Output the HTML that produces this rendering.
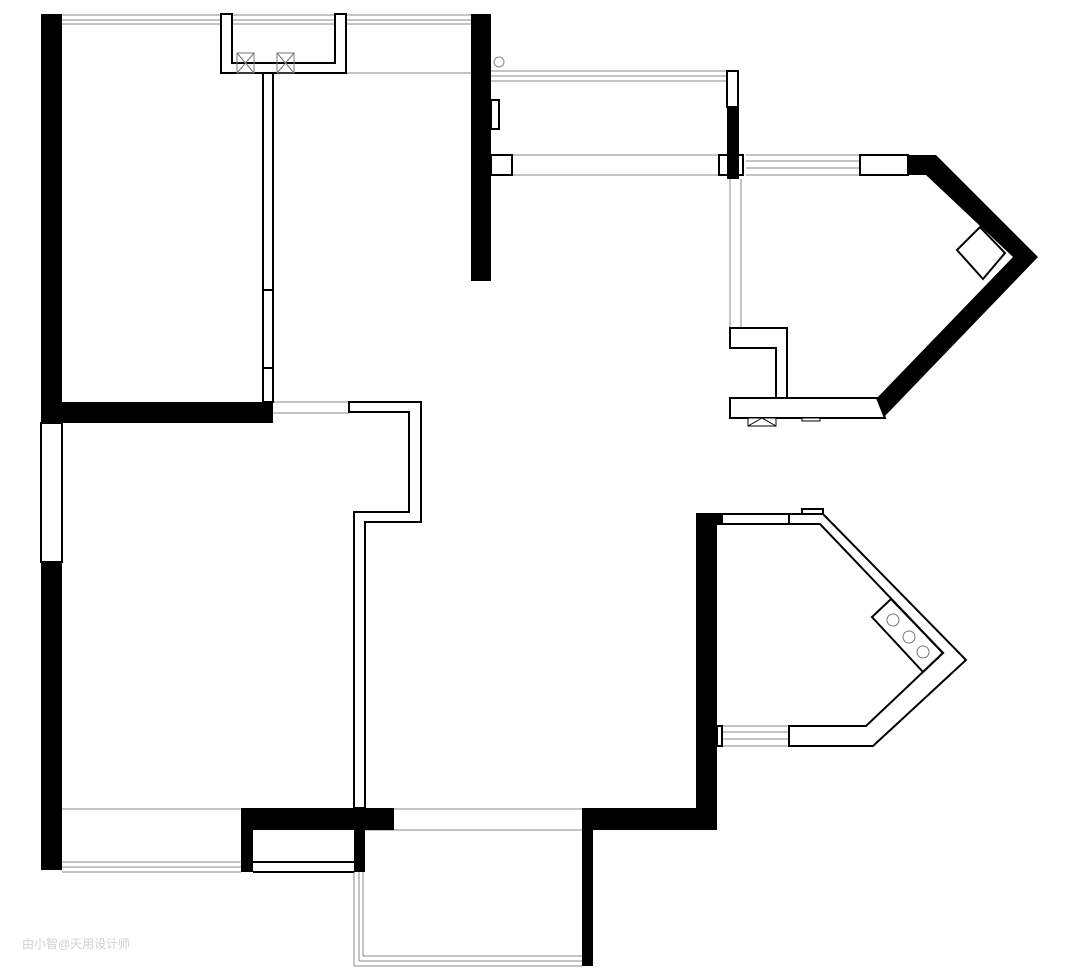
<!DOCTYPE html>
<html><head><meta charset="utf-8"><style>html,body{margin:0;padding:0;background:#fff;}svg{display:block}</style></head>
<body>
<svg width="1080" height="974" viewBox="0 0 1080 974" xmlns="http://www.w3.org/2000/svg">
<rect width="1080" height="974" fill="#fff"/>
<g fill="none" stroke="#888" stroke-width="1">
<line x1="62" y1="15" x2="471" y2="15"/><line x1="62" y1="20" x2="471" y2="20"/><line x1="62" y1="24" x2="471" y2="24"/>
<line x1="346" y1="73" x2="471" y2="73"/>
<line x1="491" y1="71" x2="730" y2="71"/><line x1="491" y1="76" x2="730" y2="76"/><line x1="491" y1="81" x2="730" y2="81"/>
<line x1="512" y1="155" x2="722" y2="155"/><line x1="512" y1="175" x2="722" y2="175"/>
<line x1="746" y1="155" x2="864" y2="155"/><line x1="746" y1="161" x2="864" y2="161"/><line x1="746" y1="168" x2="864" y2="168"/><line x1="746" y1="175" x2="864" y2="175"/>
<line x1="730" y1="179" x2="730" y2="328"/><line x1="741" y1="179" x2="741" y2="328"/>
<line x1="273" y1="402" x2="349" y2="402"/><line x1="273" y1="413" x2="349" y2="413"/>
<line x1="62" y1="809" x2="241" y2="809"/>
<line x1="62" y1="862" x2="241" y2="862"/><line x1="62" y1="867" x2="241" y2="867"/><line x1="62" y1="872" x2="241" y2="872"/>
<line x1="394" y1="809" x2="582" y2="809"/><line x1="365" y1="830" x2="582" y2="830"/>
<line x1="354" y1="872" x2="354" y2="966"/><line x1="359" y1="872" x2="359" y2="961"/><line x1="363" y1="872" x2="363" y2="956"/>
<line x1="363" y1="956" x2="582" y2="956"/><line x1="359" y1="961" x2="582" y2="961"/><line x1="354" y1="966" x2="582" y2="966"/>
<line x1="722" y1="732" x2="789" y2="732"/><line x1="722" y1="739" x2="789" y2="739"/>
<line x1="722" y1="726" x2="789" y2="726"/><line x1="722" y1="746" x2="789" y2="746"/>
<circle cx="499" cy="62" r="5"/>
</g>
<g fill="#000">
<rect x="41" y="14" width="21" height="409"/>
<polygon points="41,402 273,402 273,423 41,423"/>
<rect x="41" y="562" width="21" height="308"/>
<rect x="471" y="14" width="20" height="267"/>
<rect x="727" y="107" width="12" height="72"/>
<polygon points="908,155 936,155 1038,257 885,416 877,398 1013,257 926,175 908,175"/>
<rect x="241" y="808" width="153" height="22"/>
<rect x="241" y="830" width="12" height="42"/>
<rect x="354" y="830" width="11" height="42"/>
<rect x="582" y="808" width="135" height="22"/>
<rect x="582" y="830" width="11" height="136"/>
<rect x="696" y="513" width="21" height="317"/>
<rect x="717" y="513" width="5" height="12"/>
</g>
<g fill="#fff" stroke="#000" stroke-width="2">
<polygon points="221,14 232,14 232,63 335,63 335,14 346,14 346,73 221,73"/>
<rect x="263" y="73" width="10" height="329"/>
<line x1="263" y1="290" x2="273" y2="290"/><line x1="263" y1="368" x2="273" y2="368"/>
<rect x="41" y="423" width="21" height="139"/>
<rect x="727" y="71" width="11" height="36"/>
<rect x="491" y="100" width="8" height="29"/>
<rect x="491" y="155" width="21" height="20"/>
<rect x="719" y="155" width="24" height="20" fill="none"/>
<rect x="860" y="155" width="48" height="20"/>
<polygon points="957,250 980,227 1005,253 983,279"/>
<polygon points="730,328 787,328 787,398 776,398 776,348 730,348"/>
<polygon points="730,398 877,398 885,418 730,418"/>
<polygon points="349,402 421,402 421,522 365,522 365,808 354,808 354,512 409,512 409,412 349,412"/>
<line x1="253" y1="862" x2="354" y2="862"/><line x1="253" y1="872" x2="354" y2="872"/>
<rect x="722" y="514" width="67" height="10"/>
<polygon points="789,514 823,514 966,660 873,746 789,746 789,726 866,726 943,653 820,524 789,524"/>
<rect x="802" y="509" width="21" height="5"/>
<rect x="717" y="726" width="5" height="20"/>
<polygon points="872,617 891,599 943,653 923,672" fill="none"/>
</g>
<g fill="none" stroke="#777" stroke-width="1">
<rect x="237" y="53" width="17" height="20"/><line x1="237" y1="53" x2="254" y2="73"/><line x1="254" y1="53" x2="237" y2="73"/>
<rect x="277" y="53" width="17" height="20"/><line x1="277" y1="53" x2="294" y2="73"/><line x1="294" y1="53" x2="277" y2="73"/>
<circle cx="893" cy="620" r="6"/><circle cx="909" cy="637" r="6"/><circle cx="923" cy="652" r="6"/>
</g>
<g fill="#fff" stroke="#000" stroke-width="1">
<rect x="748" y="418" width="28" height="8"/><line x1="748" y1="426" x2="762" y2="418"/><line x1="776" y1="426" x2="762" y2="418"/>
<rect x="802" y="418" width="18" height="3"/>
</g>
<text x="22" y="948" font-family="Liberation Sans, Noto Sans CJK SC, sans-serif" font-size="12" fill="#d0d0d0">由小智@天用设计师</text>
</svg>
</body></html>
